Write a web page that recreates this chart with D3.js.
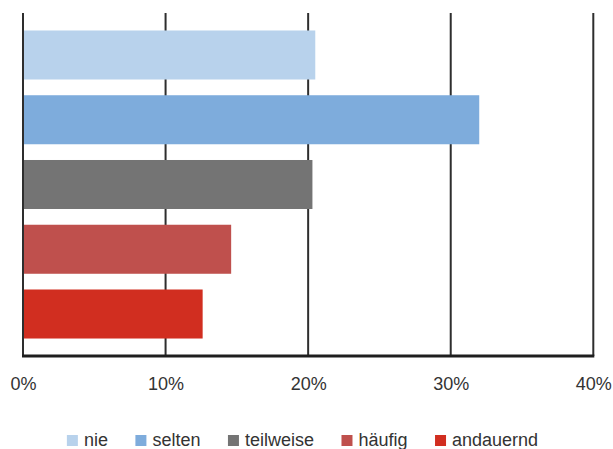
<!DOCTYPE html>
<html>
<head>
<meta charset="utf-8">
<script src="https://cdn.jsdelivr.net/npm/d3@7"></script>
<style>
  html, body { margin: 0; padding: 0; background: #fff; }
  svg { display: block; font-family: "Liberation Sans", Arial, sans-serif; }
</style>
</head>
<body>
<svg id="chart" width="613" height="449"></svg>
<script>
// Antwortkategorien und Anteile (in %)
const categories = ["nie", "selten", "teilweise", "häufig", "andauernd"];
const shares = [20.5, 32.0, 20.3, 14.6, 12.6];
const colors = ["#b8d2ec", "#7eacdc", "#747474", "#bf504d", "#d12e20"];
const tickValues = [0, 10, 20, 30, 40];

const svg = d3.select("#chart");
const plot = { left: 23, right: 593.3, top: 13, bottom: 356 };

const x = d3.scaleLinear().domain([0, 40]).range([plot.left, plot.right]);
const y = d3.scaleBand()
  .domain(categories)
  .range([plot.top, plot.bottom])
  .paddingInner(0.243)
  .paddingOuter(0.27);

const ink = "#2e2e2e";

// vertical gridlines (behind the bars)
svg.append("g")
  .selectAll("line")
  .data(tickValues)
  .join("line")
  .attr("x1", d => x(d)).attr("x2", d => x(d))
  .attr("y1", plot.top).attr("y2", plot.bottom)
  .attr("stroke", ink)
  .attr("stroke-width", 2);

// bars
svg.append("g")
  .selectAll("rect")
  .data(categories)
  .join("rect")
  .attr("x", x(0))
  .attr("y", d => y(d))
  .attr("width", (d, i) => x(shares[i]) - x(0))
  .attr("height", y.bandwidth())
  .attr("fill", (d, i) => colors[i]);

// left axis line
svg.append("line")
  .attr("x1", x(0)).attr("x2", x(0))
  .attr("y1", plot.top).attr("y2", plot.bottom)
  .attr("stroke", ink).attr("stroke-width", 2);

// bottom axis with percentage labels
const xAxis = d3.axisBottom(x)
  .tickValues(tickValues)
  .tickFormat(d => d + "%")
  .tickSize(0)
  .tickPadding(21);

const gx = svg.append("g")
  .attr("transform", `translate(0,${plot.bottom})`)
  .call(xAxis);
gx.select(".domain")
  .attr("d", `M${x(0) - 1},0H${x(40) + 1}`)
  .attr("stroke", "#1e1e1e")
  .attr("stroke-width", 3);
gx.selectAll(".tick text")
  .attr("font-size", 18)
  .attr("font-family", "'Liberation Sans', Arial, sans-serif")
  .attr("fill", "#333");

// legend below the chart
const legend = svg.append("g");
const items = legend.selectAll("g")
  .data(categories)
  .join("g");
items.append("rect")
  .attr("width", 11).attr("height", 11)
  .attr("y", 435)
  .attr("fill", (d, i) => colors[i]);
items.append("text")
  .attr("x", 17)
  .attr("y", 446)
  .attr("font-size", 18)
  .attr("fill", "#333")
  .text(d => d);

const gap = 27.5;
let cursor = 0;
items.each(function () {
  const w = d3.select(this).select("text").node().getComputedTextLength();
  d3.select(this).attr("transform", `translate(${cursor},0)`);
  cursor += 17 + w + gap;
});
const totalWidth = cursor - gap;
const center = 302.5;
legend.attr("transform", `translate(${center - totalWidth / 2},0)`);
</script>
</body>
</html>
